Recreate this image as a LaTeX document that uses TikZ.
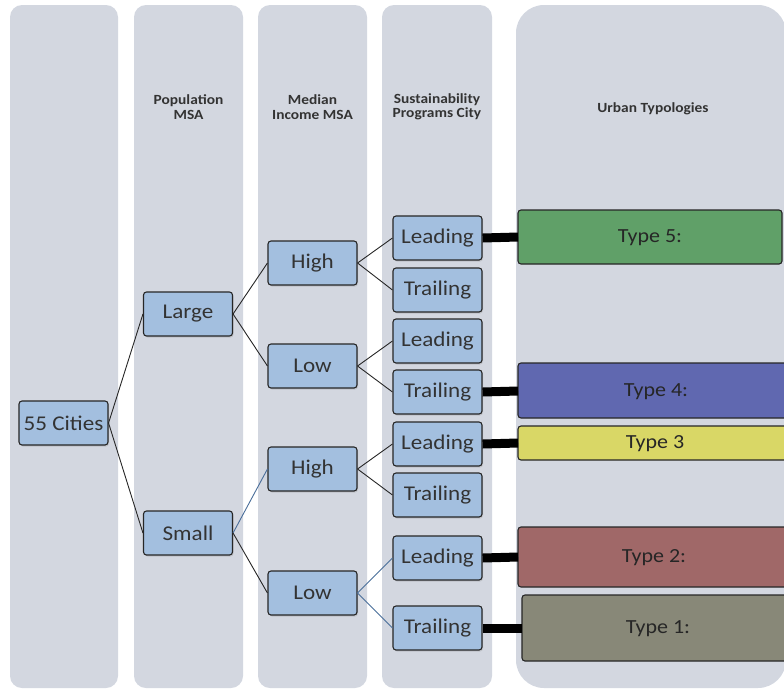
\documentclass[tikz,border=0pt]{standalone}
\usepackage{fontspec}
\setmainfont{Carlito}[FakeStretch=1.1]
\usetikzlibrary{shadows}
\definecolor{colbg}{HTML}{D3D7E0}
\definecolor{nodeblue}{HTML}{A3BFDF}
\definecolor{t5}{HTML}{60A068}
\definecolor{t4}{HTML}{6068B0}
\definecolor{t3}{HTML}{D9D766}
\definecolor{t2}{HTML}{A06868}
\definecolor{t1}{HTML}{888878}
\definecolor{bluelink}{HTML}{4A6E9A}
\tikzset{
  colbox/.style={fill=colbg, draw=none, rounded corners=12pt},
  tnode/.style={rectangle, rounded corners=3pt, fill=nodeblue, draw=black!85, line width=1.1pt,
     minimum width=89pt, minimum height=44pt, inner sep=0pt, font=\fontsize{21}{23}\selectfont,
     text=black!80, drop shadow={shadow xshift=1pt, shadow yshift=-1.5pt, opacity=0.25}},
  typebox/.style={draw=black!85, line width=1.1pt, rounded corners=3pt},
  hdr/.style={font=\bfseries\fontsize{14}{14.5}\selectfont, align=center, text=black!80},
  link/.style={line width=0.9pt, black!85},
  blink/.style={line width=0.9pt, bluelink},
  thick link/.style={line width=9pt, black},
  typelabel/.style={font=\fontsize{20}{22}\selectfont, text=black!85}
}
\begin{document}
\begin{tikzpicture}[x=1pt,y=-1pt]
\useasboundingbox (0,0) rectangle (784,691);
\begin{scope}
\clip (0,0) rectangle (784,691);
% columns
\fill[colbox] (10,5) rectangle (118,688);
\fill[colbox] (134,5) rectangle (243,688);
\fill[colbox] (258,5) rectangle (367,688);
\fill[colbox] (382,5) rectangle (492,688);
\fill[colbg, rounded corners=28pt] (516,5) rectangle (786,688);
% headers
\node[hdr] (h2) at (188.5,107) {Population\\MSA};
\node[hdr] (h3) at (312.5,107) {Median\\Income MSA};
\node[hdr] (h4) at (437,107) {Sustainability\\Programs City};
\node[hdr] (h5) at (653,109) {Urban Typologies};
% type boxes
\filldraw[typebox, fill=t5] (518,210) rectangle (782,264);
\filldraw[typebox, fill=t4] (518,363) rectangle (795,418);
\filldraw[typebox, fill=t3] (518,426) rectangle (795,460);
\filldraw[typebox, fill=t2] (518,527) rectangle (795,587);
\filldraw[typebox, fill=t1] (522,595) rectangle (795,661);
\coordinate (T5) at (518,237);
\coordinate (T4) at (518,391);
\coordinate (T3) at (518,443);
\coordinate (T2) at (518,557);
\coordinate (T1) at (522,628);
\node[typelabel] (l5) at (650,238) {Type 5:};
\node[typelabel] (l4) at (656,392) {Type 4:};
\node[typelabel] (l3) at (655,444) {Type 3};
\node[typelabel] (l2) at (654,558) {Type 2:};
\node[typelabel] (l1) at (658,629) {Type 1:};
% tree nodes
\node[tnode] (c) at (63.5,423) {55 Cities};
\node[tnode] (large) at (188,314) {Large};
\node[tnode] (small) at (188,533) {Small};
\node[tnode] (hi1) at (312.5,263) {High};
\node[tnode] (lo1) at (312.5,366) {Low};
\node[tnode] (hi2) at (312.5,469) {High};
\node[tnode] (lo2) at (312.5,593) {Low};
\node[tnode] (le1) at (437.5,238) {Leading};
\node[tnode] (tr1) at (437.5,290) {Trailing};
\node[tnode] (le2) at (437.5,341) {Leading};
\node[tnode] (tr2) at (437.5,392) {Trailing};
\node[tnode] (le3) at (437.5,444) {Leading};
\node[tnode] (tr3) at (437.5,495) {Trailing};
\node[tnode] (le4) at (437.5,558) {Leading};
\node[tnode] (tr4) at (437.5,628) {Trailing};
% links
\draw[link] (c.east) -- (large.west);
\draw[link] (c.east) -- (small.west);
\draw[link] (large.east) -- (hi1.west);
\draw[link] (large.east) -- (lo1.west);
\draw[blink] (small.east) -- (hi2.west);
\draw[link] (small.east) -- (lo2.west);
\draw[link] (hi1.east) -- (le1.west);
\draw[link] (hi1.east) -- (tr1.west);
\draw[link] (lo1.east) -- (le2.west);
\draw[link] (lo1.east) -- (tr2.west);
\draw[link] (hi2.east) -- (le3.west);
\draw[link] (hi2.east) -- (tr3.west);
\draw[blink] (lo2.east) -- (le4.west);
\draw[blink] (lo2.east) -- (tr4.west);
% thick links
\draw[thick link] (le1.east) -- (T5);
\draw[thick link] (tr2.east) -- (T4);
\draw[thick link] (le3.east) -- (T3);
\draw[thick link] (le4.east) -- (T2);
\draw[thick link] (tr4.east) -- (T1);
\end{scope}
\end{tikzpicture}
\end{document}
